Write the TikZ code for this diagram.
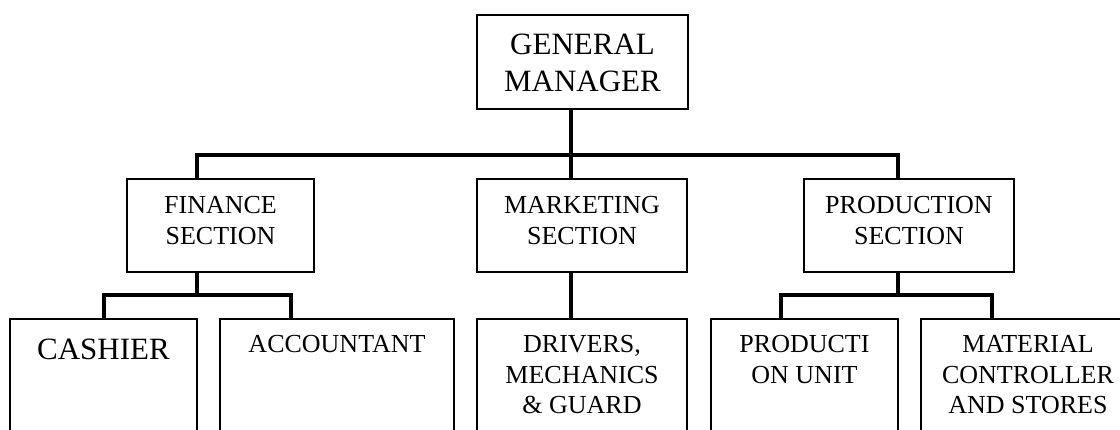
\documentclass[tikz,border=0pt]{standalone}
\usepackage{fontspec}
\setmainfont{Liberation Serif}
\usetikzlibrary{calc}
\begin{document}
\begin{tikzpicture}[x=1pt,y=-1pt,
  unit/.style={draw, line width=1.7pt, anchor=north west, inner sep=0pt, outer sep=0pt},
  conn/.style={line width=4pt},
  bigtext/.style={font=\fontsize{31}{36.5}\selectfont, align=center, anchor=north, inner sep=0pt},
  smalltext/.style={font=\fontsize{26}{30.5}\selectfont, align=center, anchor=north, inner sep=0pt}]
\useasboundingbox (0,0) rectangle (1120,430);
\clip (0,0) rectangle (1120,430);

% unit boxes
\node[unit, minimum width=211pt, minimum height=94pt] (gm) at (477,15) {};
\node[unit, minimum width=187pt, minimum height=93pt] (fin) at (127,179) {};
\node[unit, minimum width=210pt, minimum height=93pt] (mkt) at (477,179) {};
\node[unit, minimum width=210pt, minimum height=93pt] (prod) at (804,179) {};
\node[unit, minimum width=187pt, minimum height=140pt] (cash) at (10,319) {};
\node[unit, minimum width=234pt, minimum height=140pt] (acct) at (220,319) {};
\node[unit, minimum width=210pt, minimum height=140pt] (drv) at (477,319) {};
\node[unit, minimum width=187pt, minimum height=140pt] (punit) at (711,319) {};
\node[unit, minimum width=214pt, minimum height=140pt] (mat) at (921,319) {};

% box titles
\node[bigtext] (gmL) at ($(gm.north)+(0,19)$) {GENERAL\\MANAGER};
\node[smalltext] (finL) at ($(fin.north)+(0,17.5)$) {FINANCE\\SECTION};
\node[smalltext] (mktL) at ($(mkt.north)+(0,17.5)$) {MARKETING\\SECTION};
\node[smalltext] (prodL) at ($(prod.north)+(0,17.5)$) {PRODUCTION\\SECTION};
\node[bigtext] (cashL) at ($(cash.north)+(0,19.5)$) {CASHIER};
\node[smalltext] (acctL) at ($(acct.north)+(0,16.5)$) {ACCOUNTANT};
\node[smalltext] (drvL) at ($(drv.north)+(0,16.5)$) {DRIVERS,\\MECHANICS\\\& GUARD};
\node[smalltext] (punitL) at ($(punit.north)+(0,16.5)$) {PRODUCTI\\ON UNIT};
\node[smalltext] (matL) at ($(mat.north)+(0,16.5)$) {MATERIAL\\CONTROLLER\\AND STORES};

% bus levels
\coordinate (bus0) at (0,155);
\coordinate (bus1) at (0,295);

% connector taps on the boxes
\coordinate (tGM) at ([xshift=-11.5pt]gm.south);
\coordinate (tFinA) at ([xshift=-23.5pt]fin.north);
\coordinate (tFinB) at ([xshift=-23.5pt]fin.south);
\coordinate (tMktA) at ([xshift=-11pt]mkt.north);
\coordinate (tMktB) at ([xshift=-11pt]mkt.south);
\coordinate (tProdA) at ([xshift=-11pt]prod.north);
\coordinate (tProdB) at ([xshift=-11pt]prod.south);
\coordinate (tCash) at ([xshift=0.5pt]cash.north);
\coordinate (tAcct) at ([xshift=-46pt]acct.north);
\coordinate (tDrv) at ([xshift=-11pt]drv.north);
\coordinate (tPU) at ([xshift=-23.5pt]punit.north);
\coordinate (tMat) at ([xshift=-36pt]mat.north);

% connectors
\draw[conn] (tGM) -- (tGM |- bus0);
\draw[conn] (tFinA) -- (tFinA |- bus0) -- (tProdA |- bus0) -- (tProdA);
\draw[conn] (tMktA) -- (tMktA |- bus0);
\draw[conn] (tFinB) -- (tFinB |- bus1);
\draw[conn] (tCash) -- (tCash |- bus1) -- (tAcct |- bus1) -- (tAcct);
\draw[conn] (tMktB) -- (tDrv);
\draw[conn] (tProdB) -- (tProdB |- bus1);
\draw[conn] (tPU) -- (tPU |- bus1) -- (tMat |- bus1) -- (tMat);
\end{tikzpicture}
\end{document}
